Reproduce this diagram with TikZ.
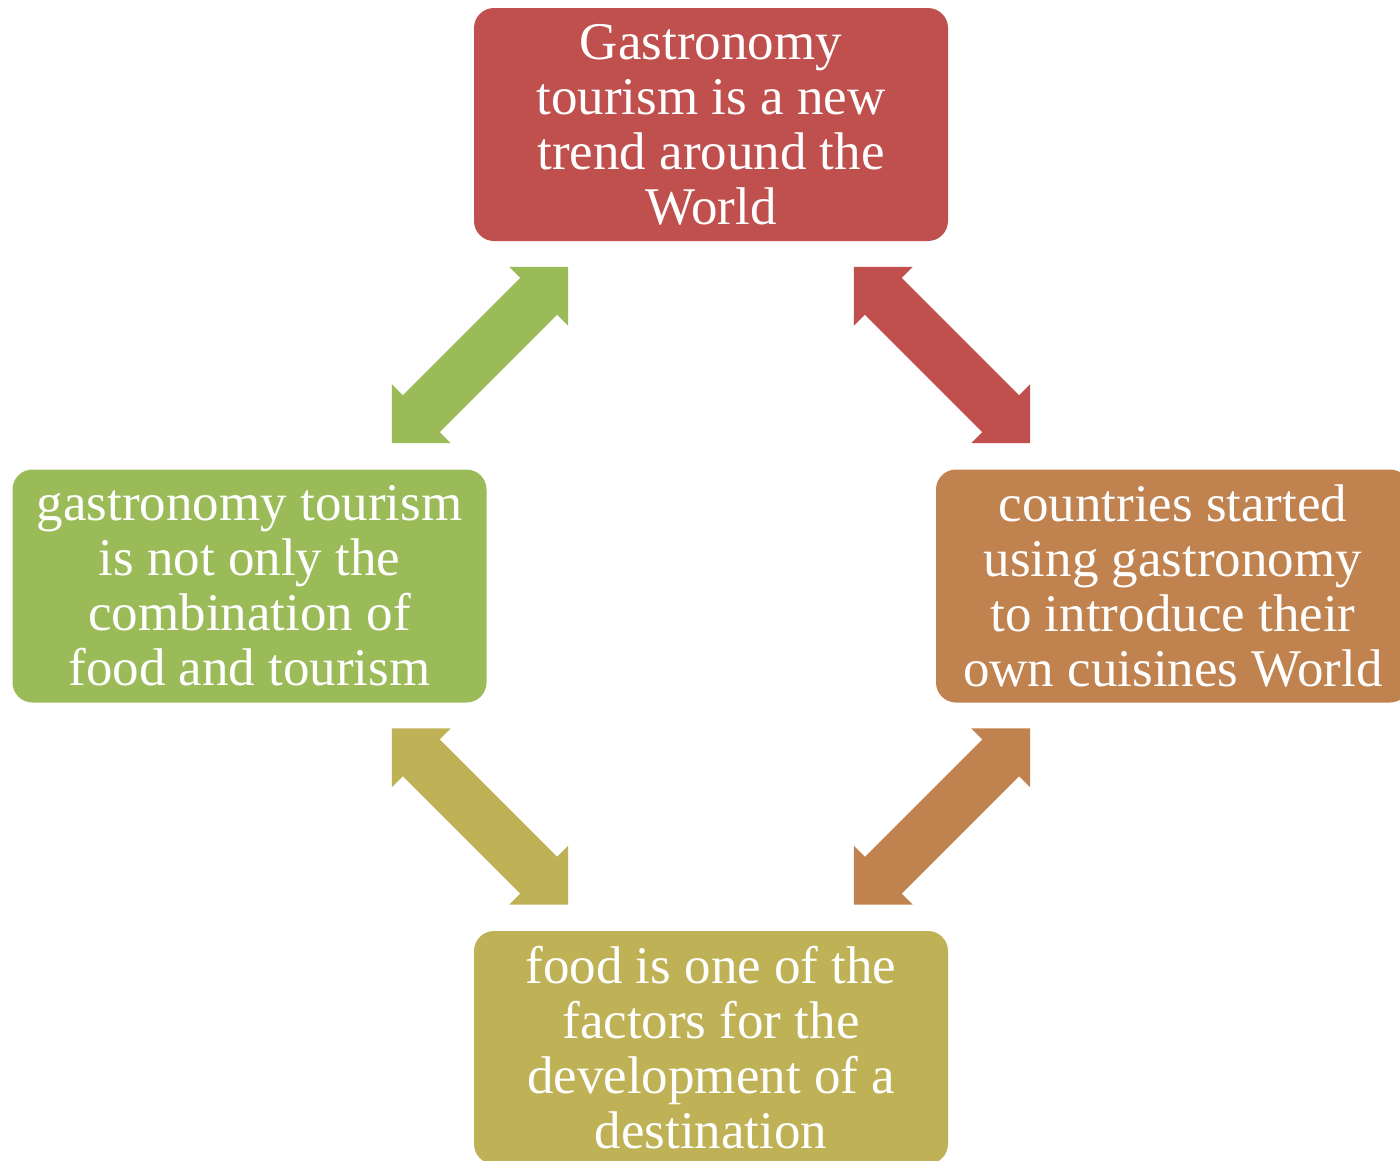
\documentclass[tikz,border=0pt]{standalone}
\usepackage{fontspec}
\setmainfont{Liberation Serif}
\definecolor{cred}{HTML}{C0504D}
\definecolor{cgreen}{HTML}{9BBB59}
\definecolor{cbrown}{HTML}{C0824F}
\definecolor{colive}{HTML}{BFB156}
\begin{document}
\begin{tikzpicture}[x=1pt,y=-1pt,
  box/.style={rounded corners=20pt, minimum width=474pt, minimum height=233pt,
    inner sep=0pt, text=white, align=center, font=\fontsize{53}{55}\selectfont},
  dblarrow/.pic={\fill[pic actions] (-124.5,0) -- (-83,-41.5) -- (-83,-26) -- (83,-26)
    -- (83,-41.5) -- (124.5,0) -- (83,41.5) -- (83,26) -- (-83,26) -- (-83,41.5) -- cycle;}]
\useasboundingbox (0,0) rectangle (1400,1160);
\clip (0,0) rectangle (1400,1160);
\node[box, fill=cred] (top) at (711,124.5) {Gastronomy\\tourism is a new\\trend around the\\World};
\node[box, fill=cbrown] (right) at (1173,586) {countries started\\using gastronomy\\to introduce their\\own cuisines World};
\node[box, fill=colive] (bottom) at (711,1047.5) {food is one of the\\factors for the\\development of a\\destination};
\node[box, fill=cgreen] (left) at (249.5,586) {gastronomy tourism\\is not only the\\combination of\\food and tourism};
\pic[rotate=45, fill=cgreen] (a1) at (480,355) {dblarrow};
\pic[rotate=-45, fill=cred] (a2) at (942,355) {dblarrow};
\pic[rotate=-45, fill=colive] (a3) at (480,816.5) {dblarrow};
\pic[rotate=45, fill=cbrown] (a4) at (942,816.5) {dblarrow};
\end{tikzpicture}
\end{document}
